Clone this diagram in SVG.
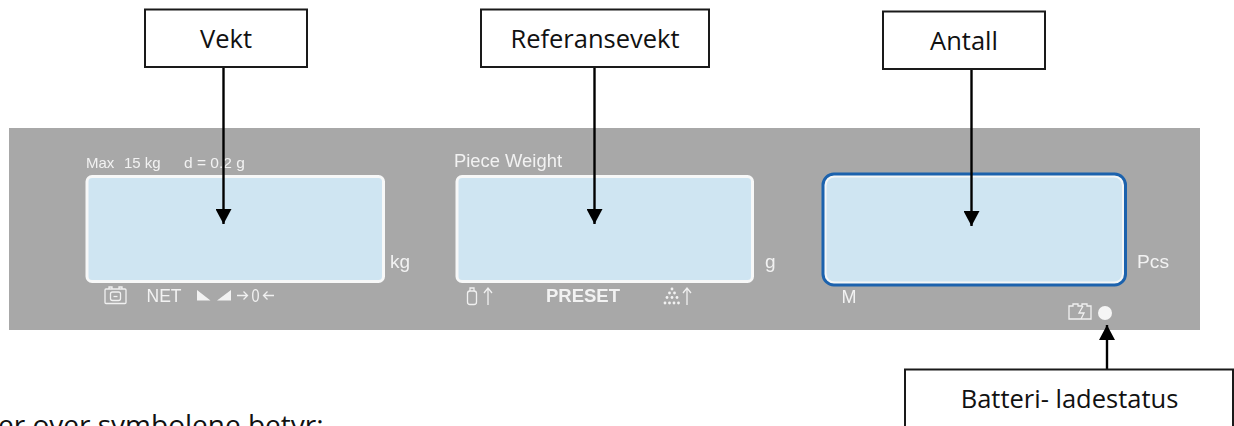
<svg xmlns="http://www.w3.org/2000/svg" width="1234" height="426" viewBox="0 0 1234 426">
<style>
.box{fill:#fff;stroke:#1a1a1a;stroke-width:2}
.lbl{font-family:"Open Sans","Noto Sans",sans-serif;font-size:25.5px;fill:#111;text-anchor:middle}
.pt{font-family:"Liberation Sans",Arial,sans-serif;fill:#f2f2f2}
.lcd{fill:#cfe5f2;stroke:#f7f8f8;stroke-width:3}
.ic{fill:none;stroke:#f0f0f0;stroke-width:1.3}
.conn{stroke:#000;stroke-width:2.4;fill:none}
</style>
<defs>
<filter id="soft" x="-5%" y="-5%" width="110%" height="110%"><feGaussianBlur stdDeviation="0.45"/></filter>
<marker id="ah" markerUnits="userSpaceOnUse" markerWidth="16" markerHeight="16" refX="15" refY="8" orient="auto"><path d="M0 0L15 8L0 16Z" fill="#000"/></marker>
</defs>
<rect width="1234" height="426" fill="#fff"/>
<g id="panel" filter="url(#soft)">
<rect x="9" y="128" width="1191" height="202" fill="#a8a8a8"/>
<text class="pt" font-size="15" y="168"><tspan x="86">Max</tspan><tspan x="124">15 kg</tspan><tspan x="184" font-size="15.500">d = 0.2 g</tspan></text>
<rect class="lcd" x="87" y="176.500" width="296.500" height="105" rx="5"/>
<text class="pt" font-size="19" x="390" y="268">kg</text>
<g class="ic"><rect x="105" y="289" width="21" height="14.500" rx="1"/><path d="M109 289v-2h3v2M119 289v-2h3v2"/><rect x="110.500" y="292" width="10" height="8.500" rx="2"/><path d="M113.500 296.500h4"/></g>
<text class="pt" font-size="18" x="146.500" y="302" textLength="35" lengthAdjust="spacingAndGlyphs">NET</text>
<path d="M197 290L210.500 300.500H197ZM231 290V300.500H217Z" fill="#f2f2f2"/>
<text class="pt" font-size="18" x="251.500" y="302" textLength="8" lengthAdjust="spacingAndGlyphs">0</text>
<path d="M237 295.500h10M243.500 291.500l4 4-4 4M274 295.500h-10M267.500 291.500l-4 4 4 4" class="ic"/>
<text class="pt" font-size="18" x="454" y="167" textLength="108" lengthAdjust="spacingAndGlyphs">Piece Weight</text>
<rect class="lcd" x="457" y="176.500" width="295.500" height="105" rx="5"/>
<text class="pt" font-size="19" x="765" y="268">g</text>
<g class="ic"><path d="M470 291v-3h4v3"/><rect x="467.500" y="291" width="9" height="13.500" rx="2.500"/><path d="M488 305v-17M484 293l4-5 4 5"/></g>
<text class="pt" font-size="19" font-weight="bold" x="546" y="302" textLength="74" lengthAdjust="spacingAndGlyphs" fill="#eee">PRESET</text>
<g fill="#f2f2f2"><circle cx="672" cy="289" r="1.400"/><circle cx="669.500" cy="293" r="1.400"/><circle cx="674.500" cy="293" r="1.400"/><circle cx="667" cy="297.500" r="1.400"/><circle cx="672" cy="297.500" r="1.400"/><circle cx="677" cy="297.500" r="1.400"/><circle cx="665" cy="303" r="1.400"/><circle cx="669.500" cy="303" r="1.400"/><circle cx="674" cy="303" r="1.400"/><circle cx="678.500" cy="303" r="1.400"/></g>
<path class="ic" d="M687 305v-17M683 293l4-5 4 5"/>
<rect x="823" y="174" width="302.500" height="111" rx="11" fill="#f5f7f7" stroke="#1a62ad" stroke-width="3"/>
<rect x="826.500" y="177.500" width="295.500" height="104" rx="8" fill="#cfe5f2"/>
<text class="pt" font-size="19" x="1137" y="268" textLength="32" lengthAdjust="spacingAndGlyphs">Pcs</text>
<text class="pt" font-size="18" x="841.500" y="303">M</text>
<g class="ic"><path d="M1069 306h4v-2h5v2h4v-2h5v2h4v13h-22Z"/><path d="M1083 306l-4 7h5l-3 6"/></g>
<circle cx="1105" cy="313" r="7" fill="#f5f5f5"/>
</g>
<g id="connectors">
<path class="conn" d="M223.500 67V224" marker-end="url(#ah)"/>
<path class="conn" d="M594.500 67V224" marker-end="url(#ah)"/>
<path class="conn" d="M971.500 69V226" marker-end="url(#ah)"/>
<path class="conn" d="M1107 369V325" marker-end="url(#ah)"/>
</g>
<g id="node-vekt"><rect class="box" x="145" y="9.500" width="162" height="57.500"/><text class="lbl" x="226" y="48">Vekt</text></g>
<g id="node-referansevekt"><rect class="box" x="481" y="9.500" width="228" height="57.500"/><text class="lbl" x="595" y="48">Referansevekt</text></g>
<g id="node-antall"><rect class="box" x="883" y="11.500" width="162" height="57.500"/><text class="lbl" x="964" y="50">Antall</text></g>
<g id="node-batteri"><rect class="box" x="905" y="369.500" width="328" height="70"/><text class="lbl" x="1069.500" y="408">Batteri- ladestatus</text></g>
<text id="caption" font-family="'Open Sans','Noto Sans',sans-serif" font-size="28" fill="#111" x="-2" y="435">er over symbolene betyr:</text>
</svg>
